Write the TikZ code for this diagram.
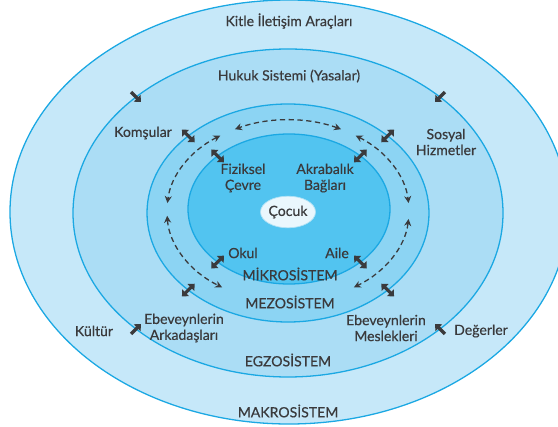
\documentclass[tikz,border=0pt]{standalone}
\usepackage{fontspec}
\setmainfont{Lato}
\newfontfamily\labfont{Lato}[FakeBold=0.45]
\usetikzlibrary{arrows.meta,shapes.geometric}
\definecolor{ringline}{HTML}{1BA8E3}
\definecolor{makro}{HTML}{C6E8F9}
\definecolor{egzo}{HTML}{ABDDF5}
\definecolor{mezo}{HTML}{8CD4F3}
\definecolor{mikro}{HTML}{52C4F0}
\definecolor{cocuk}{HTML}{EAF7FD}
\definecolor{ink}{HTML}{3A3A3C}
% short thick arrows across a ring: centre, x radius, y radius, angle
\newcommand\inArr[4]{\draw[push, -{Triangle[length=4.5pt,width=8pt]}]
  ([shift={(#1)}]#4:#2+7 and #3+7) -- ([shift={(#1)}]#4:#2-7 and #3-7);}
\newcommand\twoArr[4]{\draw[push,
  {Triangle[length=4.5pt,width=8pt]}-{Triangle[length=4.5pt,width=8pt]}]
  ([shift={(#1)}]#4:#2+9 and #3+9) -- ([shift={(#1)}]#4:#2-9 and #3-9);}

\begin{document}
\begin{tikzpicture}[x=0.03cm, y=-0.03cm,
    ring/.style={draw=ringline, line width=1.1pt},
    lab/.style={inner sep=0pt, text=ink, align=center,
      font=\labfont\fontsize{12}{13.6}\selectfont},
    push/.style={draw=ink, line width=2.8pt},
    flow/.style={draw=ink, line width=1.1pt, dash pattern=on 4.5pt off 3pt,
      {Stealth[length=6pt,width=6pt]}-{Stealth[length=6pt,width=6pt]}}]
  \useasboundingbox (0,0) rectangle (558,427);
  \clip (0,0) rectangle (558,427);
  % ring centres
  \coordinate (mid) at (288,213);
  \coordinate (mik) at (289,209);
  % ---- rings, outside in ---------------------------------------------
  \draw[ring, fill=makro] (289,212) ellipse [x radius=279, y radius=212];
  \draw[ring, fill=egzo]  (mid) ellipse [x radius=215, y radius=164];
  \draw[ring, fill=mezo]  (mid) ellipse [x radius=141, y radius=109];
  \draw[ring, fill=mikro] (mik) ellipse [x radius=101, y radius=75];
  % ---- entries -------------------------------------------------------
  \node[lab] (kitle)   at (289,21)  {Kitle İletişim Araçları};
  \node[lab] (hukuk)   at (289,76)  {Hukuk Sistemi (Yasalar)};
  \node[lab] (komsu)   at (143,133) {Komşular};
  \node[lab] (sosyal)  at (446,142) {Sosyal\\Hizmetler};
  \node[lab] (fizik)   at (243,178) {Fiziksel\\Çevre};
  \node[lab] (akraba)  at (325,178) {Akrabalık\\Bağları};
  \node[lab, ellipse, fill=cocuk, draw=ringline!35, line width=0.6pt,
    minimum width=1.5cm, minimum height=0.95cm] (cocuk) at (288,212) {Çocuk};
  \node[lab] (okul)    at (243,253) {Okul};
  \node[lab] (aile)    at (337,253) {Aile};
  \node[lab] (mikro)   at (290,274) {MİKROSİSTEM};
  \node[lab] (mezo)    at (290,302) {MEZOSİSTEM};
  \node[lab] (arkadas) at (184,328) {Ebeveynlerin\\Arkadaşları};
  \node[lab] (kultur)  at (94,331)  {Kültür};
  \node[lab] (meslek)  at (386,328) {Ebeveynlerin\\Meslekleri};
  \node[lab] (deger)   at (481,331) {Değerler};
  \node[lab] (egzo)    at (288,360) {EGZOSİSTEM};
  \node[lab] (makro)   at (288,411) {MAKROSİSTEM};
  % ---- thick arrows on the rings -------------------------------------
  \foreach \t in {-135,-45,45,135}{
    \inArr{mid}{215}{164}{\t}
    \twoArr{mid}{141}{109}{\t}
    \twoArr{mik}{101}{75}{\t}
  }
  % ---- dashed arcs between mikro and mezo ----------------------------
  \foreach \a/\b in {-64/-116, -124/-175, 177/123, -56/-5, 5/57}
    \draw[flow] ([shift={(288,211)}]\a:121 and 91)
      arc[start angle=\a, end angle=\b, x radius=121, y radius=91];
\end{tikzpicture}
\end{document}
